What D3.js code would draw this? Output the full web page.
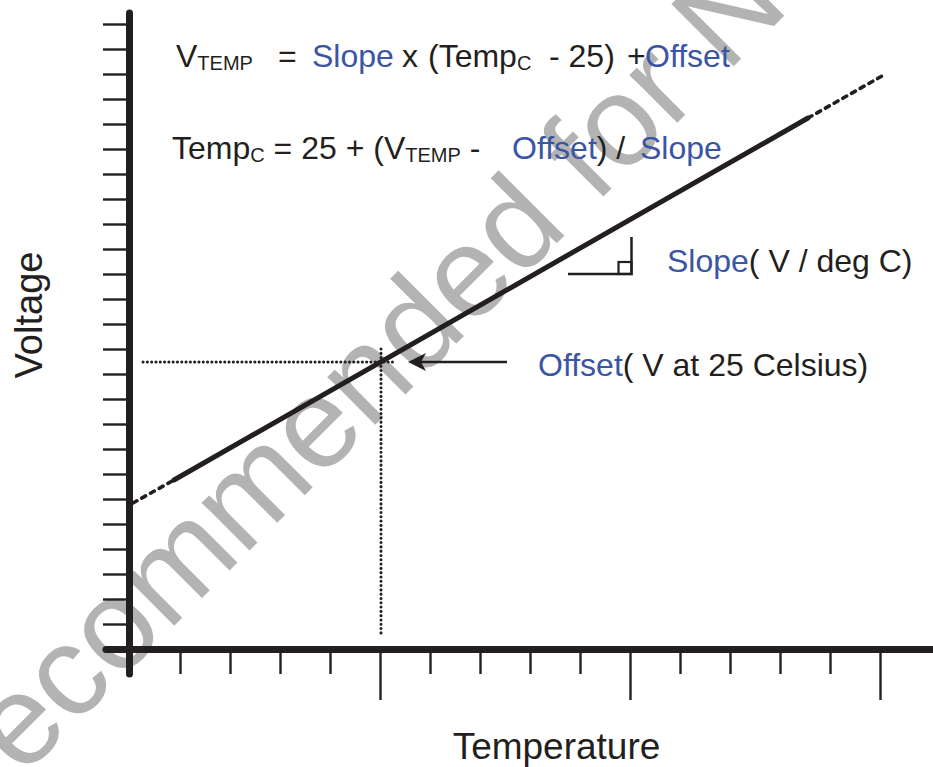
<!DOCTYPE html>
<html>
<head>
<meta charset="utf-8">
<script src="https://cdn.jsdelivr.net/npm/d3@7"></script>
<style>
  html, body { margin: 0; padding: 0; background: #fff; }
  svg { display: block; }
  text { font-family: "Liberation Sans", Arial, Helvetica, sans-serif; white-space: pre; }
</style>
</head>
<body>
<svg id="chart" width="933" height="767"></svg>
<script>
// Temperature (deg C) runs along x, sensor output voltage (V) along y.
const xTickValues = [5, 10, 15, 20, 25, 30, 35, 40, 45, 50, 55, 60, 65, 70, 75];
const xMajorTicks = [25, 50, 75];
const yTickValues = [0.05, 0.10, 0.15, 0.20, 0.25, 0.30, 0.35, 0.40, 0.45, 0.50,
                     0.55, 0.60, 0.65, 0.70, 0.75, 0.80, 0.85, 0.90, 0.95, 1.00,
                     1.05, 1.10, 1.15, 1.20, 1.25];

// transfer characteristic: extrapolated (dashed) ends and measured (solid) span
const lowExtrapT  = [0.3, 4.4];
const lowExtrapV  = [0.292, 0.338];
const measuredT   = [4.4, 67.8];
const measuredV   = [0.338, 1.062];
const highExtrapT = [67.8, 75.2];
const highExtrapV = [1.062, 1.146];

// reference point: Offset = V at 25 Celsius
const offsetTemp = 25;
const offsetVolt = 0.574;

const ink  = "#231f20";
const blue = "#3b55a5";
const mark = "#b3b3b3";

const W = 933, H = 767;
const svg = d3.select("#chart");

const x = d3.scaleLinear().domain([0, 80]).range([130, 930]);
const y = d3.scaleLinear().domain([0, 1.25]).range([649, 24]);

// ---- background stamp ----
const wm = svg.append("g").attr("transform", "translate(22,778) rotate(-45)");
const wmText = wm.append("text")
  .attr("font-size", 128)
  .attr("fill", mark)
  .text("Not recommended for New Design");
wmText.attr("x", -wmText.node().getSubStringLength(0, 5));

// ---- axes ----
const gx = svg.append("g")
  .attr("transform", `translate(0,${y(0) + 3})`)
  .call(d3.axisBottom(x).tickValues(xTickValues).tickSize(22).tickFormat(""));
gx.select(".domain").remove();
gx.selectAll(".tick line")
  .attr("stroke", ink).attr("stroke-width", 2.4)
  .filter(d => xMajorTicks.includes(d))
  .attr("y2", 48);

const gy = svg.append("g")
  .attr("transform", `translate(${x(0) - 1},0)`)
  .call(d3.axisLeft(y).tickValues(yTickValues).tickSize(26).tickFormat(""));
gy.select(".domain").remove();
gy.selectAll(".tick line").attr("stroke", ink).attr("stroke-width", 2.4);

// thick axis lines
svg.append("line")
  .attr("x1", x(0) - 24).attr("x2", W + 5)
  .attr("y1", y(0) + 0.5).attr("y2", y(0) + 0.5)
  .attr("stroke", ink).attr("stroke-width", 7).attr("stroke-linecap", "round");
svg.append("line")
  .attr("x1", x(0) - 0.5).attr("x2", x(0) - 0.5)
  .attr("y1", y(1.25) - 11).attr("y2", y(0) + 25)
  .attr("stroke", ink).attr("stroke-width", 7).attr("stroke-linecap", "round");

// ---- guide lines through the 25 C reference point ----
const dotted = sel => sel
  .attr("stroke", ink).attr("stroke-width", 3)
  .attr("stroke-linecap", "round").attr("stroke-dasharray", "0.1 4.2");
svg.append("line")
  .attr("x1", x(1.3)).attr("x2", x(26.3))
  .attr("y1", y(offsetVolt)).attr("y2", y(offsetVolt))
  .call(dotted);
svg.append("line")
  .attr("x1", x(offsetTemp) + 1).attr("x2", x(offsetTemp) + 1)
  .attr("y1", y(0.60)).attr("y2", y(0.032))
  .call(dotted);

// ---- transfer line ----
const line = d3.line().x(d => x(d[0])).y(d => y(d[1]));
const pts = (ts, vs) => ts.map((t, i) => [t, vs[i]]);

svg.append("path").datum(pts(lowExtrapT, lowExtrapV))
  .attr("d", line).attr("fill", "none").attr("stroke", ink)
  .attr("stroke-width", 3.6).attr("stroke-linecap", "round")
  .attr("stroke-dasharray", "4.5 5.5");
svg.append("path").datum(pts(highExtrapT, highExtrapV))
  .attr("d", line).attr("fill", "none").attr("stroke", ink)
  .attr("stroke-width", 3.6).attr("stroke-linecap", "round")
  .attr("stroke-dasharray", "4.5 5.5");
svg.append("path").datum(pts(measuredT, measuredV))
  .attr("d", line).attr("fill", "none").attr("stroke", ink)
  .attr("stroke-width", 5).attr("stroke-linecap", "round");

// ---- arrow pointing at the reference point ----
const tipX = x(27.8), tipY = y(offsetVolt);
svg.append("line")
  .attr("x1", x(37.7)).attr("x2", tipX + 12)
  .attr("y1", tipY).attr("y2", tipY)
  .attr("stroke", ink).attr("stroke-width", 2.5);
svg.append("path")
  .attr("d", `M${tipX},${tipY} L${tipX + 18},${tipY - 9} L${tipX + 13},${tipY} L${tipX + 18},${tipY + 9} Z`)
  .attr("fill", ink);

// ---- slope symbol ----
const sx0 = x(43.8), sx1 = x(50.15), sy0 = y(0.75), sy1 = y(0.824);
svg.append("path")
  .attr("d", `M${sx0},${sy0} H${sx1} V${sy1}`)
  .attr("fill", "none").attr("stroke", ink).attr("stroke-width", 2.5);
svg.append("rect")
  .attr("x", sx1 - 13).attr("y", sy0 - 12).attr("width", 13).attr("height", 12)
  .attr("fill", "none").attr("stroke", ink).attr("stroke-width", 2.2);

// ---- text ----
function richText(baseline, segs, size) {
  const t = svg.append("text").attr("font-size", size).attr("fill", ink);
  segs.forEach(s => {
    const ts = t.append("tspan")
      .attr("y", baseline + (s.sub ? 3 : 0))
      .attr("font-size", s.sub ? 20 : size)
      .attr("fill", s.blue ? blue : ink)
      .text(s.t);
    if (s.x !== undefined) ts.attr("x", s.x);
  });
  return t;
}

richText(67, [
  { t: "V", x: 176 }, { t: "TEMP", sub: 1 },
  { t: "=", x: 278 },
  { t: "Slope", blue: 1, x: 312 },
  { t: "x", x: 402 },
  { t: "(Temp", x: 428 }, { t: "C", sub: 1 },
  { t: "- 25)", x: 549 },
  { t: "+", x: 627 },
  { t: "Offset", blue: 1, x: 645 }
], 32);

richText(159, [
  { t: "Temp", x: 172 }, { t: "C", sub: 1 }, { t: " = 25 + (" },
  { t: "V" }, { t: "TEMP", sub: 1 }, { t: " - " },
  { t: "Offset", blue: 1, x: 512 }, { t: ")" }, { t: " / " },
  { t: "Slope", blue: 1, x: 640 }
], 32);

richText(272, [
  { t: "Slope", blue: 1, x: 667 }, { t: "( V / deg C)" }
], 32);

richText(376, [
  { t: "Offset", blue: 1, x: 538 }, { t: "( V at 25 Celsius)" }
], 32);

svg.append("text")
  .attr("x", 556.5).attr("y", 759)
  .attr("text-anchor", "middle").attr("font-size", 37).attr("fill", ink)
  .text("Temperature");

svg.append("text")
  .attr("transform", "translate(42,315) rotate(-90)")
  .attr("text-anchor", "middle").attr("font-size", 38).attr("fill", ink)
  .text("Voltage");
</script>
</body>
</html>
